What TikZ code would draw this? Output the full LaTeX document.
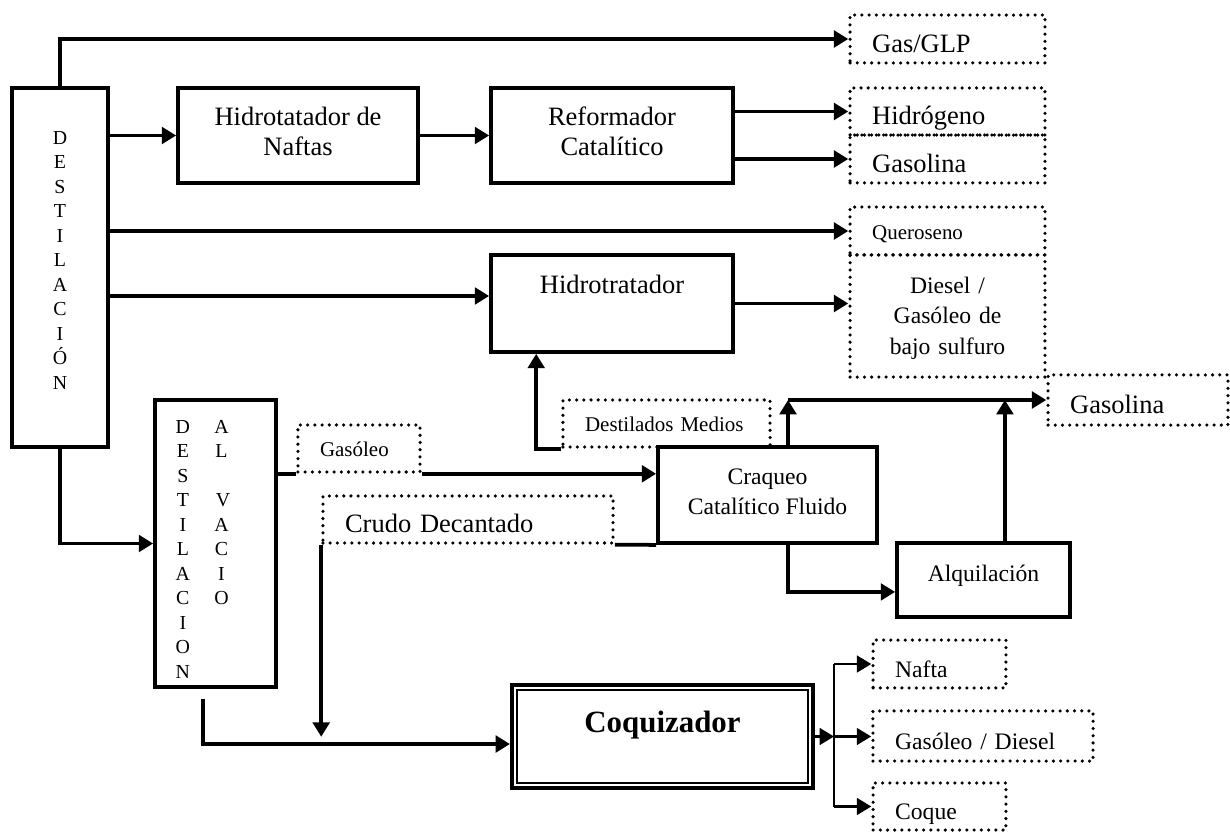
\documentclass[tikz,border=0pt]{standalone}
\usepackage{fontspec}
\setmainfont{Liberation Serif}
\usetikzlibrary{arrows.meta,calc}
\newcommand\vrw[2]{\hspace*{8.6pt}\makebox[8pt]{#1}\hspace*{9.5pt}\makebox[8pt]{#2}}
\begin{document}
\begin{tikzpicture}[x=0.453pt,y=-0.453pt,
 box/.style={draw,line width=1.7pt,inner sep=0pt,align=center},
 dbox/.style={draw,line width=1.6pt,dash pattern=on 0pt off 3.27pt,line cap=round,inner xsep=10pt,inner ysep=0pt,align=left,text depth=0pt},
 conn/.style={line width=1.7pt,-{Triangle[length=6.5pt,width=7.5pt]}},
 plain/.style={line width=1.7pt},
 tconn/.style={line width=1.2pt,-{Triangle[length=6.5pt,width=7.5pt]}},
 fA/.style={font=\fontsize{12}{13.6}\selectfont},
 fB/.style={font=\fontsize{10.7}{14}\selectfont},
 fC/.style={font=\fontsize{9.5}{11}\selectfont},
 fL/.style={font=\fontsize{9}{11.1}\selectfont},
 tA/.style={text height=11.8pt},
 tC/.style={text height=7.6pt},
]
\useasboundingbox (0,0) rectangle (1230,833);

% solid boxes
\node[box,fL,minimum width=43.5pt,minimum height=162.6pt,text height=118pt,text depth=7.5pt] (dest) at (60,267.5) {D\\E\\S\\T\\I\\L\\A\\C\\I\\Ó\\N};
\node[box,fA,minimum width=108.7pt,minimum height=43pt,text height=21.6pt,text depth=3.9pt] (hnaf) at (298,135.5) {Hidrotatador de\\Naftas};
\node[box,fA,minimum width=109.6pt,minimum height=43pt,text height=21.6pt,text depth=3.9pt] (refo) at (612,135.5) {Reformador\\Catalítico};
\node[box,fA,minimum width=109.6pt,minimum height=43.9pt,text height=8pt,text depth=17.5pt] (hidro) at (612,303.5) {Hidrotratador};
\node[box,fL,minimum height=130pt,text width=54.8pt,align=left,text height=7pt,text depth=106.7pt] (vac) at (215.5,543.5)
 {\vrw{D}{A}\\\vrw{E}{L}\\\vrw{S}{}\\\vrw{T}{\,V}\\\vrw{I}{A}\\\vrw{L}{C}\\\vrw{A}{I}\\\vrw{C}{O}\\\vrw{I}{}\\\vrw{O}{}\\\vrw{N}{}};
\node[box,fB,minimum width=99.2pt,minimum height=43.5pt,text height=22pt,text depth=3.9pt] (craq) at (767.5,495) {Craqueo\\Catalítico Fluido};
\node[box,fB,minimum width=78.4pt,minimum height=33.5pt,text height=8pt,text depth=6.2pt] (alq) at (983.5,580) {Alquilación};
\node[box,line width=1.8pt,font=\fontsize{14}{16}\selectfont\bfseries,minimum width=136.4pt,minimum height=46.7pt,text height=10pt,text depth=13.2pt] (coq) at (662.5,736.5) {Coquizador};
\draw[line width=0.9pt] ([shift={(3pt,-3pt)}]coq.north west) rectangle ([shift={(-3pt,3pt)}]coq.south east);

% dotted product boxes
\node[dbox,fA,tA,text width=68.3pt,minimum height=21.7pt] (gas) at (947.5,39) {Gas/GLP};
\node[dbox,fA,tA,text width=68.3pt,minimum height=21.3pt] (hidrog) at (947.5,111.5) {Hidrógeno};
\node[dbox,fA,tA,text width=68.3pt,minimum height=21.7pt] (gasol) at (947.5,159) {Gasolina};
\node[dbox,fC,tC,text width=68.3pt,minimum height=21.7pt] (quer) at (947.5,231) {Queroseno};
\node[dbox,fB,align=center,text width=68.3pt,minimum height=55.3pt,text height=8pt,text depth=28.8pt] (diesel) at (947.5,316) {Diesel /\\Gasóleo de\\bajo sulfuro};
\node[dbox,fC,tC,text width=35.3pt,minimum height=21.3pt] (gaso) at (359,448.5) {Gasóleo};
\node[dbox,fC,tC,text width=73.8pt,minimum height=21.3pt] (destm) at (666.5,423.5) {Destilados Medios};
\node[dbox,fA,tA,text width=111.4pt,minimum height=21.3pt] (crudo) at (468,519.5) {Crudo Decantado};
\node[dbox,fA,tA,text width=61.5pt,minimum height=22.7pt] (gas2) at (1138,400) {Gasolina};
\node[dbox,fB,tA,text width=40.2pt,minimum height=21.7pt] (nafta) at (939.5,664) {Nafta};
\node[dbox,fB,tA,text width=79.7pt,minimum height=22.7pt] (gd) at (983,736) {Gasóleo / Diesel};
\node[dbox,fB,tA,text width=40.2pt,minimum height=21.3pt] (coque) at (939.5,806.5) {Coque};

% connectors
\draw[conn] (dest.north) |- (gas.west);
\draw[conn] (dest.east |- hnaf.west) -- (hnaf.west);
\draw[conn] (hnaf.east) -- (refo.west);
\draw[conn] (refo.east |- hidrog.west) -- (hidrog.west);
\draw[conn] (refo.east |- gasol.west) -- (gasol.west);
\draw[conn] (dest.east |- quer.west) -- (quer.west);
\coordinate (h1) at ([yshift=3.4pt]hidro.west);
\draw[conn] (dest.east |- h1) -- (h1);
\draw[conn] (hidro.east) -- (hidro.east -| diesel.west);
\draw[conn] (destm.south west) -- ++(-25,0) coordinate (dmc) -- (dmc |- hidro.south);
\draw[plain] (vac.east |- gaso.south) -- (gaso.south west);
\draw[conn] (gaso.south east) -- (gaso.south east -| craq.west);
\draw[conn] (dest.south) |- (vac.west);
\draw[plain] (craq.south west) -- (crudo.south east);
\draw[conn] (crudo.south west) -- ++(0,192);
\coordinate (c1) at ([yshift=-3.4pt]coq.west);
\coordinate (v1) at ([xshift=-5.7pt,yshift=-4.5pt]vac.south);
\draw[conn] (v1) |- (c1);
\coordinate (j1) at ([xshift=9.3pt]craq.north);
\coordinate (j2) at ([xshift=9.3pt]craq.south);
\coordinate (j3) at ([xshift=9.7pt]alq.north);
\draw[conn] (j1) -- (j1 |- gas2.west);
\draw[conn] (j1 |- gas2.west) -- (gas2.west);
\draw[conn] (j3) -- (j3 |- gas2.west);
\coordinate (a1) at ([yshift=-5.4pt]alq.west);
\draw[conn] (j2) |- (a1);
\draw[tconn] (coq.east) -- ++(19,0) coordinate (cj);
\draw[line width=1.2pt] (cj |- nafta.west) -- (cj |- coque.west);
\draw[tconn] (cj |- nafta.west) -- (nafta.west);
\draw[tconn] (cj) -- (cj -| gd.west);
\draw[tconn] (cj |- coque.west) -- (coque.west);
\end{tikzpicture}
\end{document}
